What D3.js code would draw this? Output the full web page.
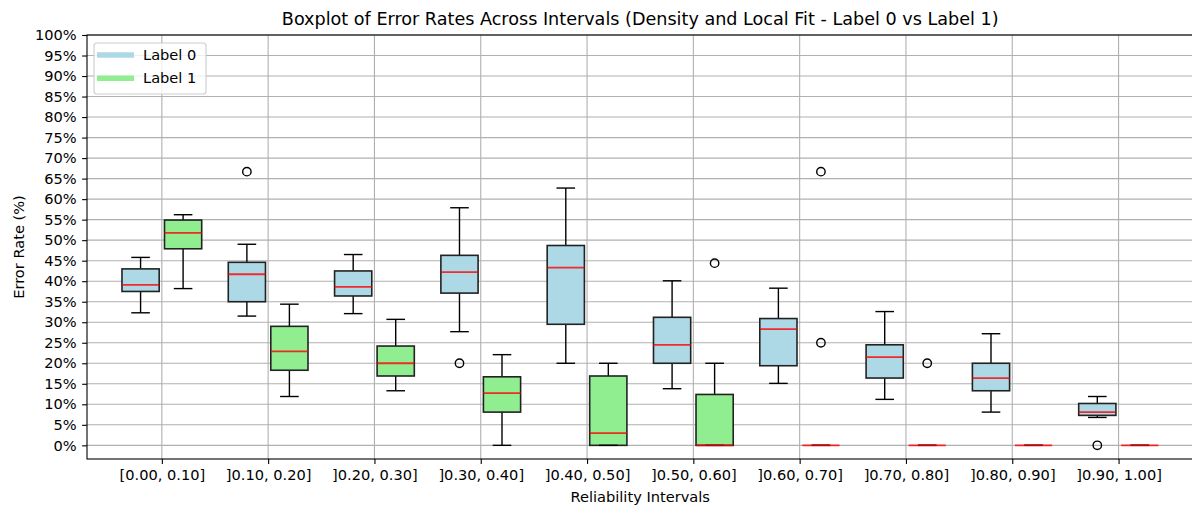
<!DOCTYPE html>
<html>
<head>
<meta charset="utf-8">
<script src="https://cdn.jsdelivr.net/npm/d3@7"></script>
<style>
  body { margin: 0; background: #fff; }
  svg { display: block; font-family: "DejaVu Sans", sans-serif; }
</style>
</head>
<body>
<svg id="chart" width="1192" height="507"></svg>
<script>
// interval categories
const intervals = ["[0.00, 0.10]", "]0.10, 0.20]", "]0.20, 0.30]", "]0.30, 0.40]", "]0.40, 0.50]",
                   "]0.50, 0.60]", "]0.60, 0.70]", "]0.70, 0.80]", "]0.80, 0.90]", "]0.90, 1.00]"];
const yTicks = d3.range(0, 101, 5);

// Label 0 box stats (%)
const l0Low  = [32.3, 31.5, 32.1, 27.7, 20.0, 13.8, 15.1, 11.2,  8.1,  6.8];
const l0Q1   = [37.5, 35.0, 36.4, 37.1, 29.5, 20.0, 19.4, 16.4, 13.3,  7.3];
const l0Med  = [39.1, 41.7, 38.6, 42.2, 43.3, 24.5, 28.3, 21.5, 16.4,  8.1];
const l0Q3   = [43.0, 44.6, 42.5, 46.3, 48.7, 31.2, 30.9, 24.5, 20.0, 10.2];
const l0High = [45.8, 49.0, 46.5, 57.9, 62.7, 40.1, 38.3, 32.6, 27.2, 11.9];
const l0Out  = [[], [66.7], [], [20.0], [], [], [], [], [], [0]];

// Label 1 box stats (%)
const l1Low  = [38.2, 11.9, 13.3,  0.0,  0.0,  0.0, 0, 0, 0, 0];
const l1Q1   = [47.9, 18.3, 16.9,  8.1,  0.0,  0.0, 0, 0, 0, 0];
const l1Med  = [51.8, 22.9, 20.0, 12.7,  3.0,  0.0, 0, 0, 0, 0];
const l1Q3   = [54.9, 29.0, 24.2, 16.7, 16.9, 12.4, 0, 0, 0, 0];
const l1High = [56.2, 34.4, 30.7, 22.1, 20.0, 20.0, 0, 0, 0, 0];
const l1Out  = [[], [], [], [], [], [44.4], [66.7, 25.0], [20.0], [], []];

const svg = d3.select("#chart");
const pLeft = 87, pTop = 35, pRight = 1193.4, pBottom = 459;
const fs = 14.6;

const x = d3.scaleLinear().domain([-0.704, 9.704]).range([pLeft, pRight]);
const y = d3.scaleLinear().domain([-3.33, 100]).range([pBottom, pTop]);

const boxW = 0.35, offset = 0.2;

// grid
const grid = svg.append("g").attr("stroke", "#b0b0b0").attr("stroke-width", 1.1);
grid.selectAll(".gy").data(yTicks).join("line")
    .attr("x1", pLeft).attr("x2", pRight)
    .attr("y1", d => y(d)).attr("y2", d => y(d));
grid.selectAll(".gx").data(intervals).join("line")
    .attr("x1", (d, i) => x(i)).attr("x2", (d, i) => x(i))
    .attr("y1", pTop).attr("y2", pBottom);

function drawSeries(fill, low, q1, med, q3, high, outs, shift) {
    const g = svg.append("g");
    intervals.forEach((name, i) => {
        const cx = x(i + shift);
        const x0 = x(i + shift - boxW / 2), x1 = x(i + shift + boxW / 2);
        const c0 = x(i + shift - boxW / 4), c1 = x(i + shift + boxW / 4);
        const b = g.append("g");
        // whiskers
        b.append("line").attr("x1", cx).attr("x2", cx).attr("y1", y(q1[i])).attr("y2", y(low[i]))
            .attr("stroke", "#000").attr("stroke-width", 1.4);
        b.append("line").attr("x1", cx).attr("x2", cx).attr("y1", y(q3[i])).attr("y2", y(high[i]))
            .attr("stroke", "#000").attr("stroke-width", 1.4);
        // box
        b.append("rect").attr("x", x0).attr("width", x1 - x0)
            .attr("y", y(q3[i])).attr("height", y(q1[i]) - y(q3[i]))
            .attr("fill", fill).attr("stroke", "#222").attr("stroke-width", 1.6);
        // caps
        [low[i], high[i]].forEach(v => {
            b.append("line").attr("x1", c0).attr("x2", c1).attr("y1", y(v)).attr("y2", y(v))
                .attr("stroke", "#000").attr("stroke-width", 1.4);
        });
        // median
        b.append("line").attr("x1", x0).attr("x2", x1).attr("y1", y(med[i])).attr("y2", y(med[i]))
            .attr("stroke", "#f00").attr("stroke-width", 1.8).attr("stroke-opacity", 0.8);
        // fliers
        b.selectAll("circle").data(outs[i]).join("circle")
            .attr("cx", cx).attr("cy", d => y(d)).attr("r", 4.2)
            .attr("fill", "none").attr("stroke", "#000").attr("stroke-width", 1.4);
    });
}

drawSeries("#add8e6", l0Low, l0Q1, l0Med, l0Q3, l0High, l0Out, -offset);
drawSeries("#90ee90", l1Low, l1Q1, l1Med, l1Q3, l1High, l1Out, offset);

// axes
const yAxis = svg.append("g").attr("transform", `translate(${pLeft},0)`)
    .call(d3.axisLeft(y).tickValues(yTicks).tickFormat(d => d + "%").tickSize(4.9).tickPadding(5.5));
const xAxis = svg.append("g").attr("transform", `translate(0,${pBottom})`)
    .call(d3.axisBottom(x).tickValues(d3.range(intervals.length)).tickFormat(i => intervals[i])
        .tickSize(4.9).tickPadding(6));
[yAxis, xAxis].forEach(a => {
    a.select(".domain").remove();
    a.selectAll(".tick line").attr("stroke", "#000").attr("stroke-width", 1.1);
    a.selectAll(".tick text").attr("fill", "#000").attr("font-size", fs)
        .attr("font-family", "DejaVu Sans, sans-serif");
});

// spines
svg.append("rect").attr("x", pLeft).attr("y", pTop).attr("width", pRight - pLeft).attr("height", pBottom - pTop)
    .attr("fill", "none").attr("stroke", "#000").attr("stroke-width", 1.1);

// titles
svg.append("text").attr("x", (pLeft + pRight) / 2).attr("y", 25).attr("text-anchor", "middle")
    .attr("font-size", 17.6).text("Boxplot of Error Rates Across Intervals (Density and Local Fit - Label 0 vs Label 1)");
svg.append("text").attr("x", (pLeft + pRight) / 2).attr("y", 502).attr("text-anchor", "middle")
    .attr("font-size", fs).text("Reliability Intervals");
svg.append("text").attr("transform", `translate(24,${(pTop + pBottom) / 2}) rotate(-90)`)
    .attr("text-anchor", "middle").attr("font-size", fs).text("Error Rate (%)");

// legend
const legendItems = [{ name: "Label 0", color: "#add8e6" }, { name: "Label 1", color: "#90ee90" }];
const lg = svg.append("g");
lg.append("rect").attr("x", 94).attr("y", 43).attr("width", 112).attr("height", 51).attr("rx", 3)
    .attr("fill", "#fff").attr("fill-opacity", 0.8).attr("stroke", "#ccc").attr("stroke-width", 1.1);
lg.selectAll(".item").data(legendItems).join("g")
    .attr("transform", (d, i) => `translate(0,${55 + i * 23.3})`)
    .each(function (d) {
        const it = d3.select(this);
        it.append("line").attr("x1", 97).attr("x2", 134).attr("stroke", d.color).attr("stroke-width", 5.5);
        it.append("text").attr("x", 143).attr("y", 5).attr("font-size", fs).text(d.name);
    });
</script>
</body>
</html>
